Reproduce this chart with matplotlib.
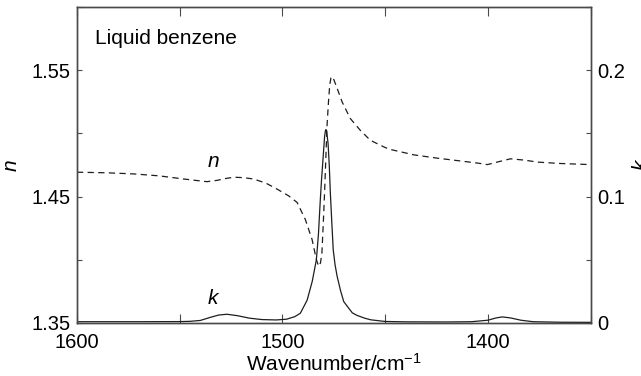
import matplotlib
matplotlib.use("Agg")
import matplotlib.pyplot as plt

plt.rcParams['font.family'] = ['Liberation Sans', 'DejaVu Sans']
plt.rcParams['mathtext.fontset'] = 'custom'
plt.rcParams['mathtext.rm'] = 'Liberation Sans'
plt.rcParams['mathtext.it'] = 'Liberation Sans:italic'

# refractive index n of liquid benzene vs wavenumber (cm-1)
wn_n = [1600, 1585, 1572, 1560, 1548, 1540, 1536.8, 1532, 1527, 1523.5, 1519,
        1514, 1508, 1502.7, 1497, 1492.9, 1488.9, 1485.6, 1483.5, 1482.4,
        1481.5, 1480.8, 1480.1, 1479.5, 1478.9, 1478.3, 1477.6, 1477.0,
        1476.4, 1475.9, 1475.0, 1473.4, 1471, 1467, 1462.1, 1457.2, 1450,
        1447.5, 1436, 1424.7, 1415, 1405, 1400.3, 1395, 1389, 1382, 1376,
        1365, 1350]
n_vals = [1.4693, 1.4688, 1.4679, 1.4664, 1.4639, 1.4624, 1.4618, 1.4628,
          1.4645, 1.4653, 1.4650, 1.4639, 1.4606, 1.4560, 1.4506, 1.4454,
          1.4320, 1.4161, 1.4002, 1.3949, 1.3975, 1.4055, 1.4300, 1.4533,
          1.4800, 1.5064, 1.5250, 1.5383, 1.5440, 1.5450, 1.5425, 1.5357,
          1.5250, 1.5118, 1.5024, 1.4945, 1.4888, 1.4873, 1.4830, 1.4804,
          1.4785, 1.4765, 1.4753, 1.4775, 1.4799, 1.4788, 1.4773, 1.4762,
          1.4753]

# absorption index k
wn_k = [1600, 1570, 1550, 1545, 1540, 1535, 1531, 1527, 1522, 1516, 1510,
        1503, 1498, 1494, 1491.3, 1488, 1485.5, 1483.5, 1482.5, 1481.6,
        1481.0, 1480.3, 1479.5, 1479.1, 1478.8, 1478.4, 1477.8, 1477.2,
        1476.7, 1476.0, 1475.3, 1474.4, 1473.4, 1471.8, 1470.2, 1468.6,
        1466, 1463.7, 1460, 1457, 1450, 1440, 1420, 1408, 1400, 1396, 1393,
        1389, 1384, 1378, 1365, 1350]
k_vals = [0.0010, 0.0010, 0.0011, 0.0013, 0.0020, 0.0045, 0.0063, 0.0069,
          0.0058, 0.0038, 0.0027, 0.0024, 0.0030, 0.0050, 0.0077, 0.0180,
          0.0330, 0.0500, 0.0700, 0.0970, 0.1130, 0.1290, 0.1475, 0.1520,
          0.1530, 0.1500, 0.1420, 0.1240, 0.1030, 0.0800, 0.0580, 0.0460,
          0.0370, 0.0260, 0.0170, 0.0135, 0.0080, 0.0060, 0.0038, 0.0025,
          0.0012, 0.0009, 0.0008, 0.0010, 0.0022, 0.0040, 0.0048, 0.0040,
          0.0022, 0.0010, 0.0006, 0.0005]

line_col = '#1e1e1e'
spine_col = '#4a4a4a'

fig = plt.figure(figsize=(6.41, 3.76), dpi=100)
ax = fig.add_axes([0.1201, 0.141, 0.8014, 0.8404])
ax2 = ax.twinx()

ax.plot(wn_n, n_vals, color=line_col, lw=0.9, ls=(0, (5, 3.5)))
ax2.plot(wn_k, k_vals, color=line_col, lw=0.9)

ax.set_xlim(1600, 1350)
ax.set_ylim(1.35, 1.60)
ax2.set_ylim(0, 0.25)

ax.set_xticks([1600, 1550, 1500, 1450, 1400, 1350])
ax.set_xticklabels(['1600', '', '1500', '', '1400', ''])
ax.set_yticks([1.35, 1.40, 1.45, 1.50, 1.55, 1.60])
ax.set_yticklabels(['1.35', '', '1.45', '', '1.55', ''])
ax2.set_yticks([0, 0.05, 0.1, 0.15, 0.2, 0.25])
ax2.set_yticklabels(['0', '', '0.1', '', '0.2', ''])

ax.tick_params(axis='x', direction='in', top=True, length=6.5, width=0.8,
               color=spine_col, labelsize=14.5, pad=7)
ax.tick_params(axis='y', direction='in', right=False, length=3.6, width=0.8,
               color=spine_col, labelsize=14.5, pad=4.5)
ax2.tick_params(axis='y', direction='in', length=3.6, width=0.8,
                color=spine_col, labelsize=14.5, pad=5)

for a in (ax, ax2):
    for s in a.spines.values():
        s.set_color(spine_col)
        s.set_linewidth(1.0)

ax.set_xlabel('Wavenumber/cm$^{-1}$', fontsize=15, labelpad=1)
ax.set_ylabel('n', fontsize=15, style='italic')
ax.yaxis.set_label_coords(-0.109, 0.5)
ax2.set_ylabel('k', fontsize=15, style='italic', rotation=90)
ax2.yaxis.set_label_coords(1.08, 0.5)

ax.text(0.035, 0.90, 'Liquid benzene', transform=ax.transAxes, fontsize=15,
        va='center', ha='left')
ax.text(1533.7, 1.478, 'n', fontsize=15, style='italic', ha='center',
        va='center')
ax2.text(1533.7, 0.019, 'k', fontsize=15, style='italic', ha='center',
         va='center')

fig.savefig('out.png', dpi=100)
